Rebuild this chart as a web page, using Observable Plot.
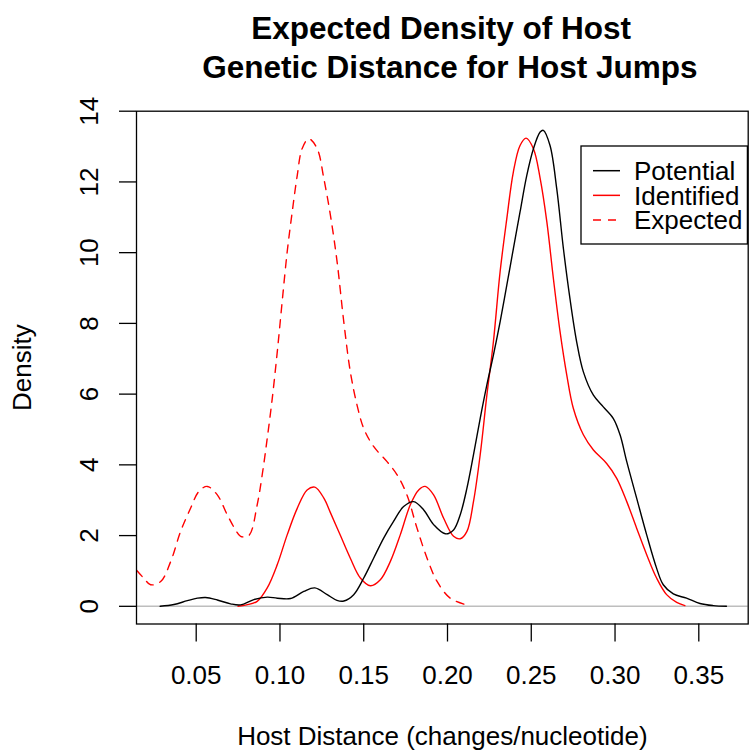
<!DOCTYPE html>
<html>
<head>
<meta charset="utf-8">
<script src="https://cdn.jsdelivr.net/npm/d3@7"></script>
<script src="https://cdn.jsdelivr.net/npm/@observablehq/plot@0.6"></script>
<style>
  html, body { margin: 0; padding: 0; background: #fff; }
  #wrap { position: relative; width: 749px; height: 752px; overflow: hidden; font-family: "Liberation Sans", Arial, sans-serif; }
  #title { position: relative; height: 90px; box-sizing: border-box; padding-top: 9px; margin-left: 136px; width: 619px;
           text-align: center; font-weight: bold; font-size: 31.5px; line-height: 39.3px; white-space: pre; color: #000; }
  #legend { position: absolute; left: 580px; top: 145px; }
</style>
</head>
<body>
<div id="wrap">
  <div id="title"></div>
  <div id="chart"></div>
  <div id="legend"></div>
</div>
<script>
const titleLines = ["Expected Density of Host ", " Genetic Distance for Host Jumps"];
const xLabel = "Host Distance (changes/nucleotide)";
const yLabel = "Density";
const xTicks = [0.05, 0.10, 0.15, 0.20, 0.25, 0.30, 0.35];
const yTicks = [0, 2, 4, 6, 8, 10, 12, 14];
const seriesNames = ["Potential", "Identified", "Expected"];

const potentialX = [0.0285,0.0367,0.0447,0.0507,0.0556,0.0626,0.0705,0.0765,0.0844,0.0924,0.0984,0.1063,0.1142,0.1208,0.1282,0.1340,0.1381,0.1440,0.1500,0.1559,0.1619,0.1678,0.1738,0.1798,0.1857,0.1917,0.1987,0.2036,0.2076,0.2116,0.2155,0.2195,0.2235,0.2274,0.2314,0.2354,0.2393,0.2433,0.2473,0.2513,0.2553,0.2572,0.2612,0.2652,0.2692,0.2731,0.2771,0.2811,0.2871,0.2930,0.2990,0.3030,0.3070,0.3129,0.3189,0.3248,0.3288,0.3348,0.3427,0.3507,0.3586,0.3665];
const potentialY = [0.00,0.05,0.16,0.23,0.25,0.18,0.07,0.04,0.19,0.26,0.23,0.22,0.42,0.52,0.33,0.17,0.15,0.33,0.80,1.36,1.93,2.40,2.82,2.96,2.73,2.31,2.05,2.16,2.59,3.34,4.28,5.31,6.26,7.10,8.04,9.08,10.11,11.15,12.18,12.94,13.41,13.46,13.03,11.81,10.11,8.70,7.48,6.63,5.97,5.64,5.31,4.85,4.09,3.06,2.02,1.08,0.61,0.35,0.23,0.08,0.02,0.00];

const identifiedX = [0.0750,0.0800,0.0864,0.0924,0.0984,0.1043,0.1103,0.1162,0.1208,0.1262,0.1301,0.1361,0.1420,0.1480,0.1540,0.1599,0.1659,0.1718,0.1778,0.1828,0.1867,0.1917,0.1977,0.2036,0.2076,0.2116,0.2155,0.2195,0.2235,0.2274,0.2314,0.2354,0.2393,0.2433,0.2469,0.2513,0.2553,0.2593,0.2632,0.2672,0.2712,0.2751,0.2811,0.2871,0.2950,0.3010,0.3070,0.3129,0.3189,0.3248,0.3308,0.3368,0.3417];
const identifiedY = [0.00,0.04,0.14,0.52,1.18,2.02,2.77,3.29,3.37,3.06,2.65,2.00,1.36,0.80,0.58,0.75,1.27,2.02,2.87,3.29,3.39,3.15,2.49,1.98,1.91,2.12,2.96,4.28,5.97,7.48,9.46,10.96,12.28,13.03,13.24,12.94,12.10,10.87,9.27,7.76,6.54,5.60,4.85,4.42,4.04,3.62,2.96,2.21,1.46,0.80,0.33,0.11,0.02];

const expectedX = [0.0144,0.0190,0.0228,0.0288,0.0348,0.0407,0.0467,0.0516,0.0566,0.0626,0.0685,0.0730,0.0765,0.0814,0.0864,0.0894,0.0924,0.0954,0.0984,0.1013,0.1043,0.1073,0.1103,0.1132,0.1172,0.1222,0.1262,0.1301,0.1341,0.1381,0.1420,0.1460,0.1500,0.1559,0.1639,0.1699,0.1758,0.1818,0.1878,0.1937,0.2016,0.2106];
const expectedY = [1.02,0.78,0.61,0.70,1.27,2.12,2.78,3.25,3.39,3.15,2.59,2.20,1.98,2.00,2.87,3.72,4.75,5.88,7.20,8.61,10.02,11.15,12.18,12.94,13.22,12.94,12.09,11.06,9.74,8.04,6.63,5.69,5.03,4.52,4.09,3.72,3.15,2.21,1.36,0.71,0.23,0.05];

const toRows = (xs, ys) => xs.map((x, i) => ({x, y: ys[i]}));
const potential = toRows(potentialX, potentialY);
const identified = toRows(identifiedX, identifiedY);
const expected = toRows(expectedX, expectedY);

document.getElementById("title").textContent = titleLines.join("\n");

const W = 749, H = 662;
const chart = Plot.plot({
  width: W, height: H,
  marginTop: 20.7, marginBottom: 128.5, marginLeft: 136, marginRight: 1.3,
  style: {fontFamily: "'Liberation Sans', Arial, sans-serif", fontSize: "26px", background: "white", color: "#000"},
  x: {domain: [0.01436, 0.37949]},
  y: {domain: [-0.5, 14]},
  marks: [
    Plot.ruleY([0], {stroke: "#bebebe", strokeWidth: 1.5}),
    Plot.line(expected, {x: "x", y: "y", stroke: "#ff0000", strokeWidth: 1.4, strokeDasharray: "8,7", curve: "catmull-rom", clip: true}),
    Plot.line(identified, {x: "x", y: "y", stroke: "#ff0000", strokeWidth: 1.4, curve: "catmull-rom", clip: true}),
    Plot.line(potential, {x: "x", y: "y", stroke: "#000000", strokeWidth: 1.4, curve: "catmull-rom", clip: true}),
    Plot.frame({stroke: "#000", strokeWidth: 1.3}),
    Plot.axisX({ticks: xTicks, tickFormat: d => d.toFixed(2), tickSize: 18, tickPadding: 24, label: null, stroke: "#000", strokeWidth: 1.3}),
    Plot.axisY({ticks: yTicks, tickFormat: d => String(d), tickSize: 17, tickPadding: 22, tickRotate: -90, label: null, stroke: "#000", strokeWidth: 1.3}),
    Plot.text([xLabel], {frameAnchor: "bottom", dy: 121, lineAnchor: "bottom", text: d => d, fill: "#000"}),
    Plot.text([yLabel], {frameAnchor: "left", dx: -106, rotate: -90, lineAnchor: "bottom", textAnchor: "middle", text: d => d, fill: "#000"})
  ]
});
document.getElementById("chart").appendChild(chart);

// legend (inside plot area, top-right as in the reference)
const styles = [
  {stroke: "#000000", dash: null},
  {stroke: "#ff0000", dash: null},
  {stroke: "#ff0000", dash: "8,7"}
];
const lw = 168, lh = 100;
const ns = "http://www.w3.org/2000/svg";
const lg = document.createElementNS(ns, "svg");
lg.setAttribute("width", lw); lg.setAttribute("height", lh);
lg.setAttribute("font-family", "'Liberation Sans', Arial, sans-serif");
lg.setAttribute("font-size", "26");
const box = document.createElementNS(ns, "rect");
box.setAttribute("x", 1); box.setAttribute("y", 1); box.setAttribute("width", lw - 1.6); box.setAttribute("height", lh - 2);
box.setAttribute("fill", "white"); box.setAttribute("stroke", "#000"); box.setAttribute("stroke-width", 1.3);
lg.appendChild(box);
seriesNames.forEach((name, i) => {
  const cy = 25.7 + i * 24.65;
  const ln = document.createElementNS(ns, "line");
  ln.setAttribute("x1", 13); ln.setAttribute("x2", 40);
  ln.setAttribute("y1", cy); ln.setAttribute("y2", cy);
  ln.setAttribute("stroke", styles[i].stroke); ln.setAttribute("stroke-width", 1.5);
  if (styles[i].dash) ln.setAttribute("stroke-dasharray", styles[i].dash);
  lg.appendChild(ln);
  const tx = document.createElementNS(ns, "text");
  tx.setAttribute("x", 54); tx.setAttribute("y", cy + 9.3);
  tx.setAttribute("fill", "#000");
  tx.textContent = name;
  lg.appendChild(tx);
});
document.getElementById("legend").appendChild(lg);
</script>
</body>
</html>
